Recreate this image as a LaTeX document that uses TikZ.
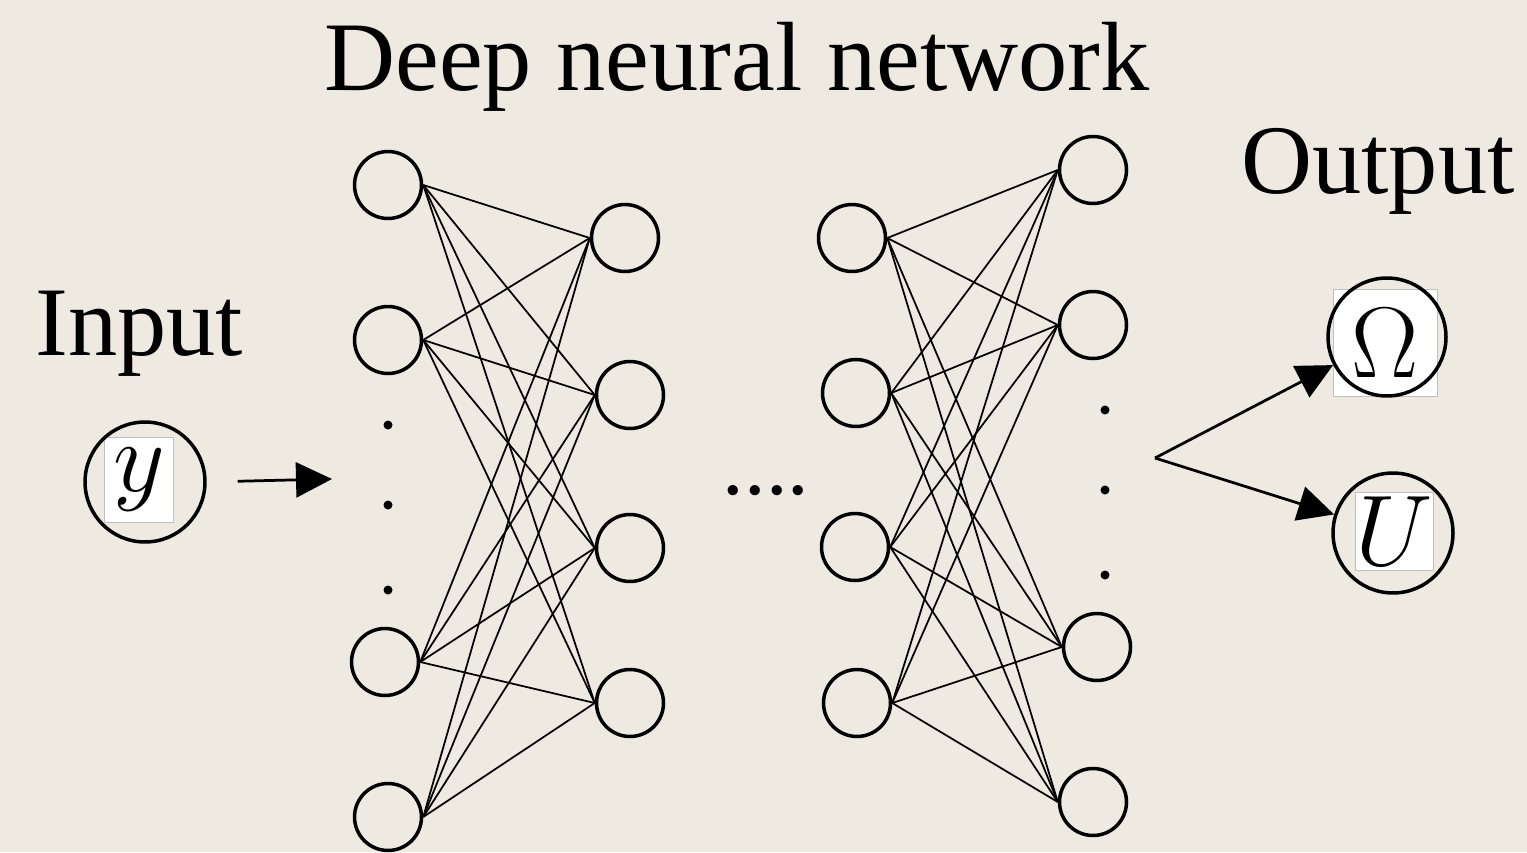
\documentclass[tikz,border=0pt]{standalone}
\usepackage{graphicx}
\usepackage{fontspec}
\setmainfont{Liberation Serif}
\usetikzlibrary{arrows.meta}
\definecolor{paper}{RGB}{238,234,225}
\newcommand{\bigmath}[1]{\scalebox{2.3}{\Huge$#1$}}

\begin{document}
\begin{tikzpicture}[x=0.02cm, y=-0.02cm,
	neuron/.style={draw, circle, line width=0.07cm, minimum size=1.34cm, inner sep=0},
	iocirc/.style={draw, circle, line width=0.07cm, minimum size=2.4cm, inner sep=0},
	mathbox/.style={fill=white, draw=black!25, line width=0.5pt, inner sep=0},
	link/.style={line width=0.035cm},
	bigarrow/.style={line width=0.055cm, -{Triangle[length=0.72cm, width=0.7cm]}},
	label/.style={font=\fontsize{56}{64}\selectfont, inner sep=0}]
	\useasboundingbox[fill=paper] (0,0) rectangle (1527,852);

		%labels
	\node[label, anchor=base] (title) at (737,90) {Deep neural network};
	\node[label, anchor=base west] (inlabel) at (35,355) {Input};
	\node[label, anchor=base west] (outlabel) at (1241,193) {Output};
	\node[label, font=\fontsize{49}{56}\selectfont, anchor=base] (gap) at (766,494) {....};

		%input
	\node[mathbox, minimum width=1.38cm, minimum height=1.7cm] (ybox) at (139,480) {\bigmath{y}};
	\node[iocirc] (y) at (145,482) {};
	\coordinate (inend) at (332,479);
	\draw[bigarrow, shorten <=0.62cm] (y.east) -- (inend);

		%hidden layers
	\node[neuron] (a1) at (388,185) {};
	\node[neuron] (a2) at (388,340) {};
	\node[neuron] (a3) at (385,662) {};
	\node[neuron] (a4) at (388,817) {};
	\node[neuron] (b1) at (625,238) {};
	\node[neuron] (b2) at (630,395) {};
	\node[neuron] (b3) at (630,548) {};
	\node[neuron] (b4) at (630,703) {};
	\node[neuron] (c1) at (852,238) {};
	\node[neuron] (c2) at (856,393) {};
	\node[neuron] (c3) at (855,547) {};
	\node[neuron] (c4) at (857,703) {};
	\node[neuron] (d1) at (1093,170) {};
	\node[neuron] (d2) at (1093,325) {};
	\node[neuron] (d3) at (1097,647) {};
	\node[neuron] (d4) at (1093,802) {};

	\foreach \i in {1,...,4}
		\foreach \j in {1,...,4} {
			\draw[link] (a\i.east) -- (b\j.west);
			\draw[link] (c\i.east) -- (d\j.west);
		}

		%vertical dots
	\foreach \yy in {425,505,590}
		\fill (388,\yy) circle (4.5);
	\foreach \yy in {410,490,575}
		\fill (1105,\yy) circle (4.5);

		%output
	\node[mathbox, minimum width=2.08cm, minimum height=2.14cm] (ombox) at (1385,343) {\bigmath{\Omega}};
	\node[iocirc, minimum size=2.36cm] (om) at (1387,337) {};
	\node[mathbox, minimum width=1.56cm, minimum height=1.56cm] (ubox) at (1394,531) {\bigmath{U}};
	\node[iocirc] (u) at (1393,533) {};
	\coordinate (fork) at (1155,458);
	\draw[bigarrow] (fork) -- (om);
	\draw[bigarrow] (fork) -- (u);
\end{tikzpicture}
\end{document}
